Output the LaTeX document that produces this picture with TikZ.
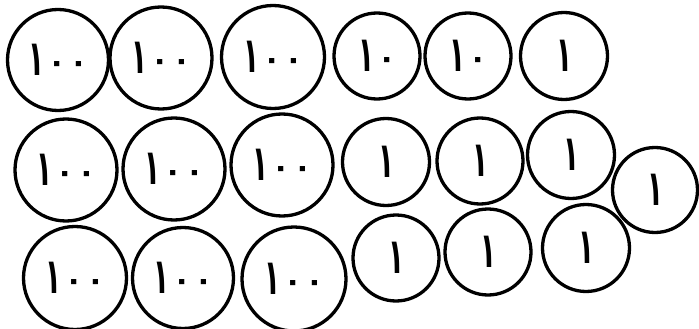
\documentclass[tikz,border=0pt]{standalone}
\usepackage{fontspec}
\usepackage{graphicx}
\newfontfamily\arabicfont[Script=Arabic]{DejaVu Sans}
\newcommand{\digone}{\scalebox{1}[1.9]{١}}
\newcommand{\digzero}{\raisebox{3pt}{\fontsize{30}{30}\selectfont ٠}}
\newcommand{\gapd}{\hspace{3.5pt}}
\begin{document}
\begin{tikzpicture}[x=1pt,y=-1pt,
  coin/.style={circle,draw=black,line width=3.3pt,minimum size=#1,inner sep=0pt,
    font=\arabicfont\bfseries\fontsize{26}{26}\selectfont}]
\useasboundingbox (0,0) rectangle (699,329);
% row 1
\node[coin=101pt] (a1) at (58,60) {\digone\gapd\digzero\gapd\digzero};
\node[coin=102pt] (a2) at (161,58) {\digone\gapd\digzero\gapd\digzero};
\node[coin=103pt] (a3) at (273,57) {\digone\gapd\digzero\gapd\digzero};
\node[coin=86pt] (a4) at (377,56) {\digone\gapd\digzero};
\node[coin=86pt] (a5) at (468,56) {\digone\gapd\digzero};
\node[coin=87pt] (a6) at (564,56) {\digone};
% row 2
\node[coin=102pt] (b1) at (66,170) {\digone\gapd\digzero\gapd\digzero};
\node[coin=102pt] (b2) at (174,169) {\digone\gapd\digzero\gapd\digzero};
\node[coin=102pt] (b3) at (282,165) {\digone\gapd\digzero\gapd\digzero};
\node[coin=87pt] (b4) at (386,162) {\digone};
\node[coin=86pt] (b5) at (480,161) {\digone};
\node[coin=87pt] (b6) at (571,155) {\digone};
\node[coin=85pt] (b7) at (655,190) {\digone};
% row 3
\node[coin=103pt] (c1) at (75,278) {\digone\gapd\digzero\gapd\digzero};
\node[coin=101pt] (c2) at (183,278) {\digone\gapd\digzero\gapd\digzero};
\node[coin=104pt] (c3) at (294,279) {\digone\gapd\digzero\gapd\digzero};
\node[coin=86pt] (c4) at (396,258) {\digone};
\node[coin=86pt] (c5) at (488,252) {\digone};
\node[coin=87pt] (c6) at (586,248) {\digone};
\end{tikzpicture}
\end{document}
